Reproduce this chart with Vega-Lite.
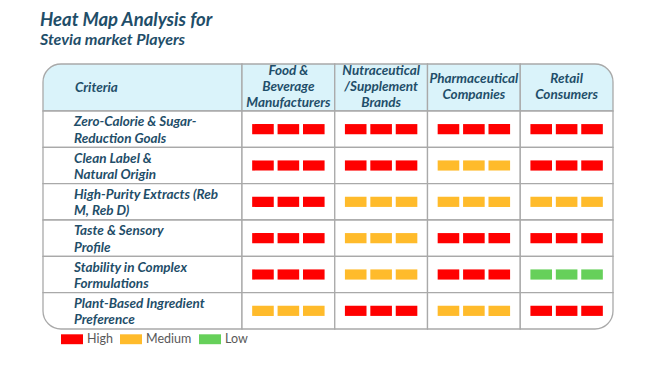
{
  "$schema": "https://vega.github.io/schema/vega-lite/v6.json",
  "background": "white",
  "padding": {"left": 40, "top": 10, "right": 5, "bottom": 5},
  "bounds": "flush",
  "spacing": 0,
  "columns": 2,
  "title": {
    "text": "Heat Map Analysis for",
    "subtitle": "Stevia market Players",
    "anchor": "start",
    "frame": "group",
    "dx": -3,
    "font": "Lato",
    "fontSize": 18.5,
    "fontStyle": "italic",
    "fontWeight": "bold",
    "color": "#1F4E69",
    "subtitleFont": "Lato",
    "subtitleFontSize": 16,
    "subtitleFontStyle": "italic",
    "subtitleFontWeight": "bold",
    "subtitleColor": "#1F4E69",
    "subtitlePadding": 3,
    "offset": 15
  },
  "config": {
    "view": {"stroke": null},
    "concat": {"spacing": 0},
    "text": {"font": "Lato", "fontSize": 13.5, "fontStyle": "italic", "fontWeight": "bold", "color": "#1F4E69", "lineBreak": "\n", "lineHeight": 16.5}
  },
  "datasets": {
    "criteria": [
      {"criterion": "Zero-Calorie & Sugar-Reduction Goals", "label": "Zero-Calorie & Sugar-\nReduction Goals"},
      {"criterion": "Clean Label & Natural Origin", "label": "Clean Label &\nNatural Origin"},
      {"criterion": "High-Purity Extracts (Reb M, Reb D)", "label": "High-Purity Extracts (Reb\nM, Reb D)"},
      {"criterion": "Taste & Sensory Profile", "label": "Taste & Sensory\nProfile"},
      {"criterion": "Stability in Complex Formulations", "label": "Stability in Complex\nFormulations"},
      {"criterion": "Plant-Based Ingredient Preference", "label": "Plant-Based Ingredient\nPreference"}
    ],
    "stakeholders": [
      {"stakeholder": "Food & Beverage Manufacturers", "label": "Food &\nBeverage\nManufacturers", "lines": 3},
      {"stakeholder": "Nutraceutical/Supplement Brands", "label": "Nutraceutical\n/Supplement\nBrands", "lines": 3},
      {"stakeholder": "Pharmaceutical Companies", "label": "Pharmaceutical\nCompanies", "lines": 2},
      {"stakeholder": "Retail Consumers", "label": "Retail\nConsumers", "lines": 2}
    ],
    "ratings": [
      {"criterion": "Zero-Calorie & Sugar-Reduction Goals", "stakeholder": "Food & Beverage Manufacturers", "level": "High", "bar": 1},
      {"criterion": "Zero-Calorie & Sugar-Reduction Goals", "stakeholder": "Food & Beverage Manufacturers", "level": "High", "bar": 2},
      {"criterion": "Zero-Calorie & Sugar-Reduction Goals", "stakeholder": "Food & Beverage Manufacturers", "level": "High", "bar": 3},
      {"criterion": "Zero-Calorie & Sugar-Reduction Goals", "stakeholder": "Nutraceutical/Supplement Brands", "level": "High", "bar": 1},
      {"criterion": "Zero-Calorie & Sugar-Reduction Goals", "stakeholder": "Nutraceutical/Supplement Brands", "level": "High", "bar": 2},
      {"criterion": "Zero-Calorie & Sugar-Reduction Goals", "stakeholder": "Nutraceutical/Supplement Brands", "level": "High", "bar": 3},
      {"criterion": "Zero-Calorie & Sugar-Reduction Goals", "stakeholder": "Pharmaceutical Companies", "level": "High", "bar": 1},
      {"criterion": "Zero-Calorie & Sugar-Reduction Goals", "stakeholder": "Pharmaceutical Companies", "level": "High", "bar": 2},
      {"criterion": "Zero-Calorie & Sugar-Reduction Goals", "stakeholder": "Pharmaceutical Companies", "level": "High", "bar": 3},
      {"criterion": "Zero-Calorie & Sugar-Reduction Goals", "stakeholder": "Retail Consumers", "level": "High", "bar": 1},
      {"criterion": "Zero-Calorie & Sugar-Reduction Goals", "stakeholder": "Retail Consumers", "level": "High", "bar": 2},
      {"criterion": "Zero-Calorie & Sugar-Reduction Goals", "stakeholder": "Retail Consumers", "level": "High", "bar": 3},
      {"criterion": "Clean Label & Natural Origin", "stakeholder": "Food & Beverage Manufacturers", "level": "High", "bar": 1},
      {"criterion": "Clean Label & Natural Origin", "stakeholder": "Food & Beverage Manufacturers", "level": "High", "bar": 2},
      {"criterion": "Clean Label & Natural Origin", "stakeholder": "Food & Beverage Manufacturers", "level": "High", "bar": 3},
      {"criterion": "Clean Label & Natural Origin", "stakeholder": "Nutraceutical/Supplement Brands", "level": "High", "bar": 1},
      {"criterion": "Clean Label & Natural Origin", "stakeholder": "Nutraceutical/Supplement Brands", "level": "High", "bar": 2},
      {"criterion": "Clean Label & Natural Origin", "stakeholder": "Nutraceutical/Supplement Brands", "level": "High", "bar": 3},
      {"criterion": "Clean Label & Natural Origin", "stakeholder": "Pharmaceutical Companies", "level": "Medium", "bar": 1},
      {"criterion": "Clean Label & Natural Origin", "stakeholder": "Pharmaceutical Companies", "level": "Medium", "bar": 2},
      {"criterion": "Clean Label & Natural Origin", "stakeholder": "Pharmaceutical Companies", "level": "Medium", "bar": 3},
      {"criterion": "Clean Label & Natural Origin", "stakeholder": "Retail Consumers", "level": "High", "bar": 1},
      {"criterion": "Clean Label & Natural Origin", "stakeholder": "Retail Consumers", "level": "High", "bar": 2},
      {"criterion": "Clean Label & Natural Origin", "stakeholder": "Retail Consumers", "level": "High", "bar": 3},
      {"criterion": "High-Purity Extracts (Reb M, Reb D)", "stakeholder": "Food & Beverage Manufacturers", "level": "High", "bar": 1},
      {"criterion": "High-Purity Extracts (Reb M, Reb D)", "stakeholder": "Food & Beverage Manufacturers", "level": "High", "bar": 2},
      {"criterion": "High-Purity Extracts (Reb M, Reb D)", "stakeholder": "Food & Beverage Manufacturers", "level": "High", "bar": 3},
      {"criterion": "High-Purity Extracts (Reb M, Reb D)", "stakeholder": "Nutraceutical/Supplement Brands", "level": "Medium", "bar": 1},
      {"criterion": "High-Purity Extracts (Reb M, Reb D)", "stakeholder": "Nutraceutical/Supplement Brands", "level": "Medium", "bar": 2},
      {"criterion": "High-Purity Extracts (Reb M, Reb D)", "stakeholder": "Nutraceutical/Supplement Brands", "level": "Medium", "bar": 3},
      {"criterion": "High-Purity Extracts (Reb M, Reb D)", "stakeholder": "Pharmaceutical Companies", "level": "Medium", "bar": 1},
      {"criterion": "High-Purity Extracts (Reb M, Reb D)", "stakeholder": "Pharmaceutical Companies", "level": "Medium", "bar": 2},
      {"criterion": "High-Purity Extracts (Reb M, Reb D)", "stakeholder": "Pharmaceutical Companies", "level": "Medium", "bar": 3},
      {"criterion": "High-Purity Extracts (Reb M, Reb D)", "stakeholder": "Retail Consumers", "level": "Medium", "bar": 1},
      {"criterion": "High-Purity Extracts (Reb M, Reb D)", "stakeholder": "Retail Consumers", "level": "Medium", "bar": 2},
      {"criterion": "High-Purity Extracts (Reb M, Reb D)", "stakeholder": "Retail Consumers", "level": "Medium", "bar": 3},
      {"criterion": "Taste & Sensory Profile", "stakeholder": "Food & Beverage Manufacturers", "level": "High", "bar": 1},
      {"criterion": "Taste & Sensory Profile", "stakeholder": "Food & Beverage Manufacturers", "level": "High", "bar": 2},
      {"criterion": "Taste & Sensory Profile", "stakeholder": "Food & Beverage Manufacturers", "level": "High", "bar": 3},
      {"criterion": "Taste & Sensory Profile", "stakeholder": "Nutraceutical/Supplement Brands", "level": "Medium", "bar": 1},
      {"criterion": "Taste & Sensory Profile", "stakeholder": "Nutraceutical/Supplement Brands", "level": "Medium", "bar": 2},
      {"criterion": "Taste & Sensory Profile", "stakeholder": "Nutraceutical/Supplement Brands", "level": "Medium", "bar": 3},
      {"criterion": "Taste & Sensory Profile", "stakeholder": "Pharmaceutical Companies", "level": "High", "bar": 1},
      {"criterion": "Taste & Sensory Profile", "stakeholder": "Pharmaceutical Companies", "level": "High", "bar": 2},
      {"criterion": "Taste & Sensory Profile", "stakeholder": "Pharmaceutical Companies", "level": "High", "bar": 3},
      {"criterion": "Taste & Sensory Profile", "stakeholder": "Retail Consumers", "level": "High", "bar": 1},
      {"criterion": "Taste & Sensory Profile", "stakeholder": "Retail Consumers", "level": "High", "bar": 2},
      {"criterion": "Taste & Sensory Profile", "stakeholder": "Retail Consumers", "level": "High", "bar": 3},
      {"criterion": "Stability in Complex Formulations", "stakeholder": "Food & Beverage Manufacturers", "level": "High", "bar": 1},
      {"criterion": "Stability in Complex Formulations", "stakeholder": "Food & Beverage Manufacturers", "level": "High", "bar": 2},
      {"criterion": "Stability in Complex Formulations", "stakeholder": "Food & Beverage Manufacturers", "level": "High", "bar": 3},
      {"criterion": "Stability in Complex Formulations", "stakeholder": "Nutraceutical/Supplement Brands", "level": "Medium", "bar": 1},
      {"criterion": "Stability in Complex Formulations", "stakeholder": "Nutraceutical/Supplement Brands", "level": "Medium", "bar": 2},
      {"criterion": "Stability in Complex Formulations", "stakeholder": "Nutraceutical/Supplement Brands", "level": "Medium", "bar": 3},
      {"criterion": "Stability in Complex Formulations", "stakeholder": "Pharmaceutical Companies", "level": "High", "bar": 1},
      {"criterion": "Stability in Complex Formulations", "stakeholder": "Pharmaceutical Companies", "level": "High", "bar": 2},
      {"criterion": "Stability in Complex Formulations", "stakeholder": "Pharmaceutical Companies", "level": "High", "bar": 3},
      {"criterion": "Stability in Complex Formulations", "stakeholder": "Retail Consumers", "level": "Low", "bar": 1},
      {"criterion": "Stability in Complex Formulations", "stakeholder": "Retail Consumers", "level": "Low", "bar": 2},
      {"criterion": "Stability in Complex Formulations", "stakeholder": "Retail Consumers", "level": "Low", "bar": 3},
      {"criterion": "Plant-Based Ingredient Preference", "stakeholder": "Food & Beverage Manufacturers", "level": "Medium", "bar": 1},
      {"criterion": "Plant-Based Ingredient Preference", "stakeholder": "Food & Beverage Manufacturers", "level": "Medium", "bar": 2},
      {"criterion": "Plant-Based Ingredient Preference", "stakeholder": "Food & Beverage Manufacturers", "level": "Medium", "bar": 3},
      {"criterion": "Plant-Based Ingredient Preference", "stakeholder": "Nutraceutical/Supplement Brands", "level": "High", "bar": 1},
      {"criterion": "Plant-Based Ingredient Preference", "stakeholder": "Nutraceutical/Supplement Brands", "level": "High", "bar": 2},
      {"criterion": "Plant-Based Ingredient Preference", "stakeholder": "Nutraceutical/Supplement Brands", "level": "High", "bar": 3},
      {"criterion": "Plant-Based Ingredient Preference", "stakeholder": "Pharmaceutical Companies", "level": "Medium", "bar": 1},
      {"criterion": "Plant-Based Ingredient Preference", "stakeholder": "Pharmaceutical Companies", "level": "Medium", "bar": 2},
      {"criterion": "Plant-Based Ingredient Preference", "stakeholder": "Pharmaceutical Companies", "level": "Medium", "bar": 3},
      {"criterion": "Plant-Based Ingredient Preference", "stakeholder": "Retail Consumers", "level": "High", "bar": 1},
      {"criterion": "Plant-Based Ingredient Preference", "stakeholder": "Retail Consumers", "level": "High", "bar": 2},
      {"criterion": "Plant-Based Ingredient Preference", "stakeholder": "Retail Consumers", "level": "High", "bar": 3}
    ]
  },
  "concat": [
    {
      "width": 199,
      "height": 47,
      "data": {"values": [{"label": "Criteria"}]},
      "layer": [
        {
          "mark": {"type": "rect", "fill": "#DAF3FA", "stroke": "#A9A9A9", "strokeWidth": 1.3, "cornerRadiusTopLeft": 18},
          "encoding": {
            "x": {"field": "label", "type": "nominal", "axis": null},
            "y": {"field": "label", "type": "nominal", "axis": null}
          }
        },
        {
          "mark": {"type": "text", "align": "left", "dx": 32},
          "encoding": {
            "x": {"field": "label", "type": "nominal", "axis": null, "bandPosition": 0},
            "y": {"field": "label", "type": "nominal", "axis": null},
            "text": {"field": "label"}
          }
        }
      ]
    },
    {
      "width": 371,
      "height": 47,
      "data": {"name": "stakeholders"},
      "encoding": {
        "x": {"field": "stakeholder", "type": "nominal", "axis": null, "sort": null, "scale": {"paddingInner": 0, "paddingOuter": 0}}
      },
      "layer": [
        {
          "transform": [{"filter": "datum.stakeholder !== 'Retail Consumers'"}],
          "mark": {"type": "rect", "fill": "#DAF3FA", "stroke": "#A9A9A9", "strokeWidth": 1.3}
        },
        {
          "transform": [{"filter": "datum.stakeholder === 'Retail Consumers'"}],
          "mark": {"type": "rect", "fill": "#DAF3FA", "stroke": "#A9A9A9", "strokeWidth": 1.3, "cornerRadiusTopRight": 18}
        },
        {
          "transform": [{"filter": "datum.lines === 3"}],
          "mark": {"type": "text", "align": "center", "lineHeight": 16, "dy": -17},
          "encoding": {"text": {"field": "label"}}
        },
        {
          "transform": [{"filter": "datum.lines === 2"}],
          "mark": {"type": "text", "align": "center", "lineHeight": 16, "dy": -9},
          "encoding": {"text": {"field": "label"}}
        }
      ]
    },
    {
      "width": 199,
      "height": 218,
      "data": {"name": "criteria"},
      "encoding": {
        "y": {"field": "criterion", "type": "nominal", "axis": null, "sort": null, "scale": {"paddingInner": 0, "paddingOuter": 0}},
        "x": {"datum": "Criteria", "type": "nominal", "axis": null}
      },
      "layer": [
        {
          "transform": [{"filter": "datum.criterion !== 'Plant-Based Ingredient Preference'"}],
          "mark": {"type": "rect", "fill": "white", "stroke": "#A9A9A9", "strokeWidth": 1.3}
        },
        {
          "transform": [{"filter": "datum.criterion === 'Plant-Based Ingredient Preference'"}],
          "mark": {"type": "rect", "fill": "white", "stroke": "#A9A9A9", "strokeWidth": 1.3, "cornerRadiusBottomLeft": 18}
        },
        {
          "mark": {"type": "text", "align": "left", "dx": 31, "dy": -7},
          "encoding": {
            "x": {"datum": "Criteria", "type": "nominal", "axis": null, "bandPosition": 0},
            "text": {"field": "label"}
          }
        }
      ]
    },
    {
      "width": 371,
      "height": 218,
      "data": {"name": "ratings"},
      "encoding": {
        "x": {"field": "stakeholder", "type": "nominal", "axis": null, "sort": null, "scale": {"paddingInner": 0, "paddingOuter": 0}},
        "y": {"field": "criterion", "type": "nominal", "axis": null, "sort": null, "scale": {"paddingInner": 0, "paddingOuter": 0}}
      },
      "layer": [
        {
          "transform": [{"filter": "datum.bar === 1 && !(datum.criterion === 'Plant-Based Ingredient Preference' && datum.stakeholder === 'Retail Consumers')"}],
          "mark": {"type": "rect", "fill": "white", "stroke": "#A9A9A9", "strokeWidth": 1.3}
        },
        {
          "transform": [{"filter": "datum.bar === 1 && datum.criterion === 'Plant-Based Ingredient Preference' && datum.stakeholder === 'Retail Consumers'"}],
          "mark": {"type": "rect", "fill": "white", "stroke": "#A9A9A9", "strokeWidth": 1.3, "cornerRadiusBottomRight": 18}
        },
        {
          "mark": {"type": "rect", "height": {"band": 0.28}},
          "encoding": {
            "xOffset": {"field": "bar", "type": "ordinal", "scale": {"paddingInner": 0.15, "paddingOuter": 0.4}},
            "color": {
              "field": "level",
              "type": "nominal",
              "scale": {"domain": ["High", "Medium", "Low"], "range": ["#FF0000", "#FFBB2B", "#66D05A"]},
              "legend": {
                "title": null,
                "orient": "none",
                "legendX": 18,
                "legendY": 264,
                "direction": "horizontal",
                "symbolType": "M-1,-0.45L1,-0.45L1,0.45L-1,0.45Z",
                "symbolSize": 484,
                "symbolStrokeWidth": 0,
                "symbolOpacity": 1,
                "labelFont": "Lato",
                "labelFontSize": 12.5,
                "labelColor": "#595959",
                "labelOffset": 4,
                "columnPadding": 7
              }
            }
          }
        }
      ]
    }
  ]
}
